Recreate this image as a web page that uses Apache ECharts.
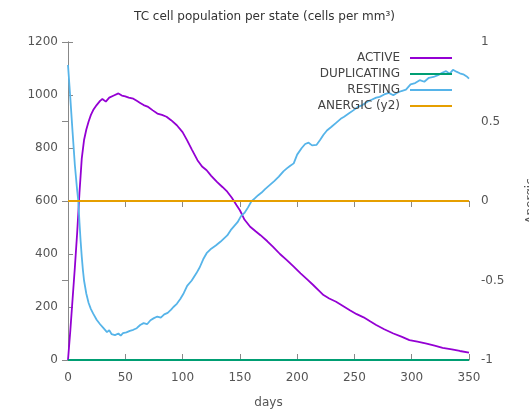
<!DOCTYPE html>
<html>
<head>
<meta charset="utf-8">
<script src="https://cdn.jsdelivr.net/npm/echarts@6/dist/echarts.min.js"></script>
<style>html,body{margin:0;padding:0;background:#fff;}#c{width:529px;height:411px;}</style>
</head>
<body>
<div id="c"></div>
<script>
var xTicks = [0, 50, 100, 150, 200, 250, 300, 350];
var yTicks = [0, 200, 400, 600, 800, 1000, 1200];
var y2Ticks = [-1, -0.5, 0, 0.5, 1];

var activeDays = [0,2,4,6,8,10,12,14,16,18,20,22,25,28,30,33,36,40,44,47,50,53,57,60,63,66,70,74,78,82,86,90,95,100,104,108,113,117,121,125,130,135,139,143,147,150,152,154,159,164,168,174,179,185,191,197,203,209,214,219,223,228,234,240,246,252,258,264,269,276,284,291,298,305,313,320,327,335,342,350];
var activeVals = [0,110,230,350,480,630,760,830,870,900,925,943,962,978,985,975,990,998,1006,998,995,990,986,978,970,962,955,942,930,925,918,905,886,860,829,795,754,730,716,695,672,652,635,612,585,565,548,530,503,485,471,448,427,400,377,352,327,303,283,262,245,232,220,204,188,173,161,145,132,116,100,88,75,69,62,54,46,40,34,28];

var restingDays = [0,2,4,6,8,9,10,11,12,13,14,16,18,20,22,25,28,31,34,36,38,41,44,46,48,51,54,57,60,63,66,69,72,75,78,81,84,87,90,92,95,98,101,104,108,112,115,118,121,125,129,133,136,139,142,145,148,151,154,157,160,163,166,169,172,176,180,184,188,191,194,197,200,204,207,210,213,217,220,223,226,230,234,238,241,245,249,253,257,261,265,269,272,276,280,284,288,291,295,299,303,307,311,315,319,323,327,330,333,336,339,342,345,348,350];
var restingVals = [1113,990,860,735,640,600,520,450,390,340,300,250,215,192,175,152,135,120,105,112,98,94,100,92,101,104,110,114,120,132,139,135,150,158,164,160,172,178,190,200,212,230,252,280,300,327,350,380,403,420,432,446,458,470,490,505,520,543,555,575,598,610,622,632,645,660,675,692,712,723,733,742,775,800,815,820,810,812,830,850,866,880,895,910,918,930,942,955,962,974,982,990,993,1002,1008,999,1010,1015,1020,1040,1045,1056,1050,1065,1068,1075,1085,1090,1080,1095,1088,1082,1078,1070,1062];

var duplicatingDays = [0,50,100,150,200,250,300,350];
var duplicatingVals = [0,0,0,0,0,0,0,0];

var anergicDays = [0,50,100,150,200,250,300,350];
var anergicVals = [0,0,0,0,0,0,0,0];

function pairs(d, v){ return d.map(function(x,i){ return [x, v[i]]; }); }

var axisCol = '#888';
var labCol = '#555';
var font = 'DejaVu Sans';

var chart = echarts.init(document.getElementById('c'), null, {renderer:'canvas'});
chart.setOption({
  animation: false,
  backgroundColor: '#fff',
  textStyle: {fontFamily: font},
  title: {
    text: 'TC cell population per state (cells per mm\u00b3)',
    left: 'center', top: 6,
    textStyle: {fontFamily: font, fontSize: 12, fontWeight: 'normal', color: '#333'}
  },
  grid: {left: 68, right: 60, top: 42, bottom: 51, containLabel: false, outerBoundsMode: 'none'},
  legend: {
    orient: 'vertical', right: 72, top: 46, align: 'right',
    itemWidth: 42, itemHeight: 2, itemGap: 2, icon: 'rect',
    textStyle: {fontFamily: font, fontSize: 12, color: '#444', lineHeight: 14, padding: [0, 5, 0, 0]},
    data: ['ACTIVE', 'DUPLICATING', 'RESTING', 'ANERGIC (y2)']
  },
  xAxis: [{
    type: 'value', min: xTicks[0], max: xTicks[xTicks.length-1], interval: 50,
    name: 'days', nameLocation: 'middle', nameGap: 37,
    nameTextStyle: {fontFamily: font, fontSize: 12, color: labCol},
    axisLine: {show: true, lineStyle: {color: axisCol, width: 1}},
    axisTick: {show: true, inside: true, length: 6, lineStyle: {color: axisCol}},
    axisLabel: {color: labCol, fontSize: 12, fontFamily: font, margin: 12},
    splitLine: {show: false}
  }, {
    type: 'value', position: 'top', min: xTicks[0], max: xTicks[xTicks.length-1], interval: 50,
    axisLine: {show: true, lineStyle: {color: axisCol, width: 1}},
    axisTick: {show: true, inside: true, length: 6, lineStyle: {color: axisCol}},
    axisLabel: {show: false},
    splitLine: {show: false}
  }],
  yAxis: [{
    type: 'value', min: yTicks[0], max: yTicks[yTicks.length-1], interval: 200,
    axisLine: {show: true, lineStyle: {color: axisCol, width: 1}},
    axisTick: {show: true, inside: true, length: 5, lineStyle: {color: axisCol}},
    axisLabel: {color: labCol, fontSize: 12, fontFamily: font, margin: 10, formatter: function(v){ return String(v); }},
    splitLine: {show: false}
  }, {
    type: 'value', position: 'right', min: y2Ticks[0], max: y2Ticks[y2Ticks.length-1], interval: 0.5,
    name: 'Anergic', nameLocation: 'middle', nameGap: 56, nameRotate: 90,
    nameTextStyle: {fontFamily: font, fontSize: 12, color: labCol},
    axisLine: {show: true, lineStyle: {color: axisCol, width: 1}},
    axisTick: {show: true, inside: true, length: 6, lineStyle: {color: axisCol}},
    axisLabel: {color: labCol, fontSize: 12, fontFamily: font, margin: 12, formatter: function(v){ return String(v); }},
    splitLine: {show: false}
  }],
  series: [{
    name: 'ACTIVE', type: 'line', showSymbol: false, yAxisIndex: 0,
    data: pairs(activeDays, activeVals),
    lineStyle: {color: '#9400d3', width: 1.8}, itemStyle: {color: '#9400d3'}
  }, {
    name: 'DUPLICATING', type: 'line', showSymbol: false, yAxisIndex: 0,
    data: pairs(duplicatingDays, duplicatingVals),
    lineStyle: {color: '#009e73', width: 1.8}, itemStyle: {color: '#009e73'}
  }, {
    name: 'RESTING', type: 'line', showSymbol: false, yAxisIndex: 0,
    data: pairs(restingDays, restingVals),
    lineStyle: {color: '#56b4e9', width: 1.8}, itemStyle: {color: '#56b4e9'}
  }, {
    name: 'ANERGIC (y2)', type: 'line', showSymbol: false, yAxisIndex: 1,
    data: pairs(anergicDays, anergicVals),
    lineStyle: {color: '#e69f00', width: 1.8}, itemStyle: {color: '#e69f00'}
  }]
});
</script>
</body>
</html>
